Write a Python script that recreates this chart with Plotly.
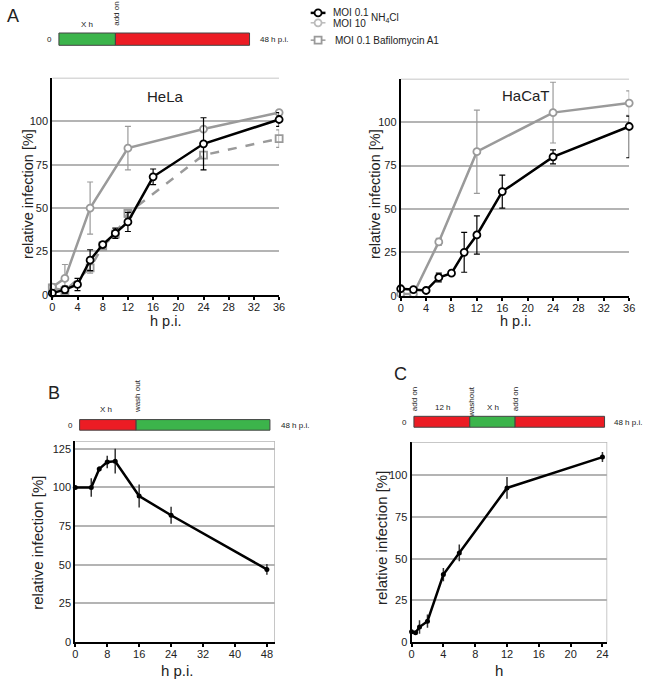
import plotly.graph_objects as go

W, H = 650, 685

# ---------------- data ----------------
# Panel A, HeLa
hela_t_low = [0, 2, 4, 6, 8, 10, 12, 16, 24, 36]
hela_low = [1, 3, 6, 20, 29, 35.5, 42, 68, 87, 101]
hela_low_err = [1, 2, 3.5, 6, 1.5, 3, 5.5, 4.5, 15, 4]
hela_t_high = [0, 2, 6, 12, 24, 36]
hela_high = [4.5, 9.5, 50, 84.5, 95.5, 105]
hela_high_err = [2, 8, 15, 12.5, 0, 0]
hela_t_baf = [0, 2, 6, 8, 10, 12, 24, 36]
hela_baf = [4, 2.5, 15.5, 28, 35, 47, 80.5, 90]
hela_baf_err = [1, 1, 3, 1.5, 1.5, 2, 6, 5]

# Panel A, HaCaT
hacat_t_low = [0, 2, 4, 6, 8, 10, 12, 16, 24, 36]
hacat_low = [4, 3.5, 3, 10.5, 13, 25, 35, 60, 80, 97.5]
hacat_low_err_plus = [1, 1, 1, 2.5, 1, 11.5, 11, 9.5, 4, 6]
hacat_low_err_minus = [1, 1, 1, 2.5, 1, 11.5, 11, 9.5, 4, 18]
hacat_t_high = [0, 2, 6, 12, 24, 36]
hacat_high = [1, 1, 31, 83, 105.5, 111]
hacat_high_err = [0.5, 0.5, 2, 24, 17.5, 7]

# Panel B
b_t = [0, 4, 6, 8, 10, 16, 24, 48]
b_val = [100, 100, 112, 116.5, 117, 94.5, 82, 47]
b_err = [0, 6, 1.5, 4, 8, 7.5, 5.5, 3.5]

# Panel C
c_t = [0, 0.5, 1, 2, 4, 6, 12, 24]
c_val = [6.2, 5.6, 9, 12.5, 40.5, 53.5, 92.5, 111]
c_err = [1, 1, 4, 4, 4, 5, 6.5, 3]

a_xticks = [0, 4, 8, 12, 16, 20, 24, 28, 32, 36]
a_yticks = [0, 25, 50, 75, 100]
b_xticks = [0, 8, 16, 24, 32, 40, 48]
b_yticks = [0, 25, 50, 75, 100, 125]
c_xticks = [0, 4, 8, 12, 16, 20, 24]
c_yticks = [0, 25, 50, 75, 100]

FONT = "Liberation Sans, Arial, Helvetica, sans-serif"
BLACK = "#000000"
GRAY = "#9a9a9a"
GRID = "#b4b4b4"
GREEN = "#3cb44b"
RED = "#ec1c24"

fig = go.Figure()

def px_x(p):
    return p / W

def px_y(p):
    return 1 - p / H

def err(arr, color, width=3, thick=1.2, minus=None):
    d = dict(type="data", array=arr, visible=True, color=color, width=width, thickness=thick)
    if minus is not None:
        d["symmetric"] = False
        d["arrayminus"] = minus
    return d

# --- HeLa ---
fig.add_trace(go.Scatter(x=hela_t_baf, y=hela_baf, xaxis="x", yaxis="y", mode="lines+markers",
                         line=dict(color=GRAY, width=2.5, dash="dash"),
                         marker=dict(symbol="square-open", size=7, color=GRAY, line=dict(width=1.8)),
                         error_y=err(hela_baf_err, GRAY), cliponaxis=False, showlegend=False))
fig.add_trace(go.Scatter(x=hela_t_high, y=hela_high, xaxis="x", yaxis="y", mode="lines+markers",
                         line=dict(color=GRAY, width=2.5),
                         marker=dict(symbol="circle", size=7, color="white", line=dict(color=GRAY, width=1.8)),
                         error_y=err(hela_high_err, GRAY), cliponaxis=False, showlegend=False))
fig.add_trace(go.Scatter(x=hela_t_low, y=hela_low, xaxis="x", yaxis="y", mode="lines+markers",
                         line=dict(color=BLACK, width=2.5),
                         marker=dict(symbol="circle", size=7, color="white", line=dict(color=BLACK, width=1.8)),
                         error_y=err(hela_low_err, BLACK), cliponaxis=False, showlegend=False))

# --- HaCaT ---
fig.add_trace(go.Scatter(x=hacat_t_high, y=hacat_high, xaxis="x2", yaxis="y2", mode="lines+markers",
                         line=dict(color=GRAY, width=2.5),
                         marker=dict(symbol="circle", size=7, color="white", line=dict(color=GRAY, width=1.8)),
                         error_y=err(hacat_high_err, GRAY), cliponaxis=False, showlegend=False))
fig.add_trace(go.Scatter(x=hacat_t_low, y=hacat_low, xaxis="x2", yaxis="y2", mode="lines+markers",
                         line=dict(color=BLACK, width=2.5),
                         marker=dict(symbol="circle", size=7, color="white", line=dict(color=BLACK, width=1.8)),
                         error_y=err(hacat_low_err_plus, BLACK, minus=hacat_low_err_minus),
                         cliponaxis=False, showlegend=False))

# --- B ---
fig.add_trace(go.Scatter(x=b_t, y=b_val, xaxis="x3", yaxis="y3", mode="lines+markers",
                         line=dict(color=BLACK, width=2.5),
                         marker=dict(symbol="circle", size=5, color=BLACK),
                         error_y=err(b_err, "#333333", width=0, thick=1.5), cliponaxis=False, showlegend=False))

# --- C ---
fig.add_trace(go.Scatter(x=c_t, y=c_val, xaxis="x4", yaxis="y4", mode="lines+markers",
                         line=dict(color=BLACK, width=2.5),
                         marker=dict(symbol="circle", size=5, color=BLACK),
                         error_y=err(c_err, "#333333", width=0, thick=1.5), cliponaxis=False, showlegend=False))

# --- legend glyphs (pixel overlay axes) ---
leg_line_x = [312, 327]
leg_mark_x = [319.5]
legend_items = [
    (13, BLACK, 2.5, "circle", "white"),
    (23, "#bbbbbb", 1.5, "circle", "white"),
    (40.5, GRAY, 1.5, "square", "white"),
]
for yy, col, lw, sym, fill in legend_items:
    fig.add_trace(go.Scatter(x=leg_line_x, y=[yy, yy], xaxis="x5", yaxis="y5", mode="lines",
                             line=dict(color=col, width=lw), cliponaxis=False, showlegend=False, hoverinfo="skip"))
    fig.add_trace(go.Scatter(x=leg_mark_x, y=[yy], xaxis="x5", yaxis="y5", mode="markers",
                             marker=dict(symbol=sym, size=7, color=fill, line=dict(color=col, width=1.8)),
                             cliponaxis=False, showlegend=False, hoverinfo="skip"))

tickfont = dict(family=FONT, size=11, color="#222222")

def xax(domain, rng, ticks, anchor):
    return dict(domain=domain, range=rng, tickvals=ticks, showline=True, linecolor=BLACK, linewidth=2,
                ticks="outside", ticklen=3, tickwidth=1.5, tickcolor=BLACK, showgrid=False, zeroline=False,
                tickfont=tickfont, fixedrange=True, anchor=anchor, ticklabelstandoff=-2)

def yax(domain, rng, ticks, anchor):
    return dict(domain=domain, range=rng, tickvals=ticks, showline=True, linecolor=BLACK, linewidth=2,
                ticks="", showgrid=True, gridcolor=GRID, gridwidth=1.5, zeroline=False,
                tickfont=tickfont, fixedrange=True, anchor=anchor)

fig.update_layout(
    width=W, height=H, margin=dict(l=0, r=0, t=0, b=0, pad=0), autosize=False,
    paper_bgcolor="white", plot_bgcolor="rgba(0,0,0,0)",
    font=dict(family=FONT, color="#222222"),
    xaxis=xax([px_x(50), px_x(280)], [0, 36], a_xticks, "y"),
    yaxis=yax([px_y(297.5), px_y(78.5)], [0, 125], a_yticks, "x"),
    xaxis2=xax([px_x(403.3), px_x(635)], [0, 36], a_xticks, "y2"),
    yaxis2=yax([px_y(298.3), px_y(79.5)], [0, 125], a_yticks, "x2"),
    xaxis3=xax([px_x(73.3), px_x(275.7)], [0, 50], b_xticks, "y3"),
    yaxis3=yax([px_y(647.7), px_y(445)], [0, 130], b_yticks, "x3"),
    xaxis4=xax([px_x(414.3), px_x(612.7)], [0, 24.6], c_xticks, "y4"),
    yaxis4=yax([px_y(647.7), px_y(446)], [0, 120], c_yticks, "x4"),
    xaxis5=dict(domain=[0, 1], range=[0, W], visible=False, fixedrange=True, anchor="y5"),
    yaxis5=dict(domain=[0, 1], range=[H, 0], visible=False, fixedrange=True, anchor="x5"),
)

shapes = []
# top gridline (125) for panel A plots
shapes.append(dict(type="line", xref="x", yref="y", x0=0, x1=36, y0=125, y1=125, line=dict(color=GRID, width=1.5), layer="below"))
shapes.append(dict(type="line", xref="x2", yref="y2", x0=0, x1=36, y0=125, y1=125, line=dict(color=GRID, width=1.5), layer="below"))
# frames for B and C (gray top and right)
shapes.append(dict(type="line", xref="x3", yref="y3", x0=0, x1=50, y0=130, y1=130, line=dict(color=GRID, width=1.5)))
shapes.append(dict(type="line", xref="x3", yref="y3", x0=50, x1=50, y0=0, y1=130, line=dict(color=GRID, width=1.5)))
shapes.append(dict(type="line", xref="x4", yref="y4", x0=0, x1=24.6, y0=120, y1=120, line=dict(color=GRID, width=1.5)))
shapes.append(dict(type="line", xref="x4", yref="y4", x0=24.6, x1=24.6, y0=0, y1=120, line=dict(color=GRID, width=1.5)))

def bar(x0, x1, y0, y1, color):
    shapes.append(dict(type="rect", xref="x5", yref="y5", x0=x0, x1=x1, y0=y0, y1=y1,
                       fillcolor=color, line=dict(color="#444444", width=1), layer="above"))

# schematic A
bar(56.7, 114, 33.3, 45.7, GREEN)
bar(114, 250, 33.3, 45.7, RED)
# schematic B
bar(77.7, 135, 423.3, 434, RED)
bar(135, 270.7, 423.3, 434, GREEN)
# schematic C
bar(416.7, 473.3, 420, 431, RED)
bar(473.3, 519.3, 420, 431, GREEN)
bar(519.3, 610, 420, 431, RED)
fig.update_layout(shapes=shapes)

ann = []
def text(x, y, s, size=10, angle=0, xanchor="center", color="#222222"):
    ann.append(dict(xref="x5", yref="y5", x=x, y=y, text=s, showarrow=False, textangle=angle,
                    xanchor=xanchor, yanchor="middle", font=dict(family=FONT, size=size, color=color)))

# panel letters
text(10, 16, "A", 18)
text(52, 396, "B", 18)
text(403, 377, "C", 18)

# schematic labels A
text(46.7, 40, "0", 8)
text(275, 40, "48 h p.i.", 8)
text(85, 25, "X h", 8)
text(115.5, 14, "add on", 8, angle=-90)
# schematic labels B
text(68, 429, "0", 8)
text(296, 429, "48 h p.i.", 8)
text(104, 413, "X h", 8)
text(136.5, 400, "wash out", 8, angle=-90)
# schematic labels C
text(407, 426, "0", 8)
text(634, 426, "48 h p.i.", 8)
text(417.5, 403, "add on", 8, angle=-90)
text(446, 411, "12 h", 8)
text(475, 405, "washout", 8, angle=-90)
text(497.3, 411, "X h", 8)
text(520, 403, "add on", 8, angle=-90)

# legend texts
text(333, 12.5, "MOI 0.1", 10, xanchor="left")
text(333, 23.5, "MOI 10", 10, xanchor="left")
text(371, 18, "NH<sub>4</sub>Cl", 10, xanchor="left")
text(335, 41, "MOI 0.1 Bafilomycin A1", 10, xanchor="left")

# panel titles
text(165, 97, "HeLa", 15)
text(530, 96, "HaCaT", 15)

# axis titles
text(26, 196, "relative infection [%]", 14.5, angle=-90)
text(377, 196, "relative infection [%]", 14.5, angle=-90)
text(165, 324, "h p.i.", 14.5)
text(520, 324, "h p.i.", 14.5)
text(35, 548, "relative infection [%]", 15, angle=-90)
text(384, 543, "relative infection [%]", 15, angle=-90)
text(176.7, 676, "h p.i.", 15)
text(502.7, 676, "h", 15)

fig.update_layout(annotations=ann)

fig.write_html("out.html", config={"displayModeBar": False},
               post_script="document.body.style.margin='0';document.body.style.padding='0';"
                           "document.body.style.overflow='hidden';")
